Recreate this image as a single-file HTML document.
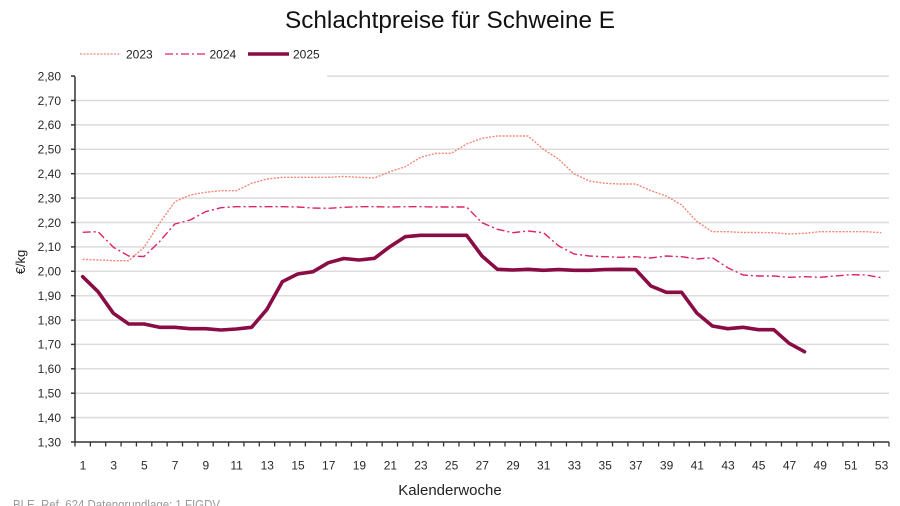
<!DOCTYPE html>
<html><head><meta charset="utf-8"><style>
html,body{margin:0;padding:0;background:#fff;}
svg{display:block;}
text{font-family:"Liberation Sans",sans-serif;}
</style></head><body>
<svg width="900" height="506" viewBox="0 0 900 506" xmlns="http://www.w3.org/2000/svg">
<rect width="900" height="506" fill="#fff"/>
<text x="450" y="28" font-size="24" text-anchor="middle" fill="#111" textLength="330" lengthAdjust="spacingAndGlyphs">Schlachtpreise für Schweine E</text>
<!-- gridlines -->
<g stroke="#dcdcdc" stroke-width="1.5">
<line x1="75" x2="889" y1="417.6" y2="417.6"/>
<line x1="75" x2="889" y1="393.2" y2="393.2"/>
<line x1="75" x2="889" y1="368.8" y2="368.8"/>
<line x1="75" x2="889" y1="344.4" y2="344.4"/>
<line x1="75" x2="889" y1="320.1" y2="320.1"/>
<line x1="75" x2="889" y1="295.7" y2="295.7"/>
<line x1="75" x2="889" y1="271.3" y2="271.3"/>
<line x1="75" x2="889" y1="246.9" y2="246.9"/>
<line x1="75" x2="889" y1="222.5" y2="222.5"/>
<line x1="75" x2="889" y1="198.1" y2="198.1"/>
<line x1="75" x2="889" y1="173.7" y2="173.7"/>
<line x1="75" x2="889" y1="149.3" y2="149.3"/>
<line x1="75" x2="889" y1="124.9" y2="124.9"/>
<line x1="75" x2="889" y1="100.5" y2="100.5"/>
<line x1="327" x2="889" y1="76.1" y2="76.1"/>
</g>
<!-- axes -->
<g stroke="#333" stroke-width="1.5">
<line x1="75" x2="75" y1="76.5" y2="442.7"/>
<line x1="74.3" x2="889" y1="442" y2="442"/>
<line x1="71" x2="75" y1="442" y2="442"/>
<line x1="71" x2="75" y1="417.6" y2="417.6"/>
<line x1="71" x2="75" y1="393.2" y2="393.2"/>
<line x1="71" x2="75" y1="368.8" y2="368.8"/>
<line x1="71" x2="75" y1="344.4" y2="344.4"/>
<line x1="71" x2="75" y1="320.1" y2="320.1"/>
<line x1="71" x2="75" y1="295.7" y2="295.7"/>
<line x1="71" x2="75" y1="271.3" y2="271.3"/>
<line x1="71" x2="75" y1="246.9" y2="246.9"/>
<line x1="71" x2="75" y1="222.5" y2="222.5"/>
<line x1="71" x2="75" y1="198.1" y2="198.1"/>
<line x1="71" x2="75" y1="173.7" y2="173.7"/>
<line x1="71" x2="75" y1="149.3" y2="149.3"/>
<line x1="71" x2="75" y1="124.9" y2="124.9"/>
<line x1="71" x2="75" y1="100.5" y2="100.5"/>
<line x1="71" x2="75" y1="76.1" y2="76.1"/>
</g>
<path stroke="#333" stroke-width="1.3" fill="none" d="M75,442v4.5 M90.36,442v4.5 M105.72,442v4.5 M121.07,442v4.5 M136.43,442v4.5 M151.79,442v4.5 M167.15,442v4.5 M182.51,442v4.5 M197.86,442v4.5 M213.22,442v4.5 M228.58,442v4.5 M243.94,442v4.5 M259.3,442v4.5 M274.65,442v4.5 M290.01,442v4.5 M305.37,442v4.5 M320.73,442v4.5 M336.09,442v4.5 M351.44,442v4.5 M366.8,442v4.5 M382.16,442v4.5 M397.52,442v4.5 M412.88,442v4.5 M428.23,442v4.5 M443.59,442v4.5 M458.95,442v4.5 M474.31,442v4.5 M489.67,442v4.5 M505.02,442v4.5 M520.38,442v4.5 M535.74,442v4.5 M551.1,442v4.5 M566.46,442v4.5 M581.81,442v4.5 M597.17,442v4.5 M612.53,442v4.5 M627.89,442v4.5 M643.25,442v4.5 M658.6,442v4.5 M673.96,442v4.5 M689.32,442v4.5 M704.68,442v4.5 M720.04,442v4.5 M735.39,442v4.5 M750.75,442v4.5 M766.11,442v4.5 M781.47,442v4.5 M796.83,442v4.5 M812.18,442v4.5 M827.54,442v4.5 M842.9,442v4.5 M858.26,442v4.5 M873.62,442v4.5 M888.97,442v4.5"/>
<!-- y labels -->
<g font-size="12" fill="#2a2a2a" text-anchor="end">
<text x="61" y="446.3">1,30</text>
<text x="61" y="421.9">1,40</text>
<text x="61" y="397.5">1,50</text>
<text x="61" y="373.1">1,60</text>
<text x="61" y="348.7">1,70</text>
<text x="61" y="324.4">1,80</text>
<text x="61" y="300">1,90</text>
<text x="61" y="275.6">2,00</text>
<text x="61" y="251.2">2,10</text>
<text x="61" y="226.8">2,20</text>
<text x="61" y="202.4">2,30</text>
<text x="61" y="178">2,40</text>
<text x="61" y="153.6">2,50</text>
<text x="61" y="129.2">2,60</text>
<text x="61" y="104.8">2,70</text>
<text x="61" y="80.4">2,80</text>
</g>
<!-- x labels -->
<g font-size="12" fill="#2a2a2a" text-anchor="middle">
<text x="83" y="469.5">1</text>
<text x="113.7" y="469.5">3</text>
<text x="144.4" y="469.5">5</text>
<text x="175.1" y="469.5">7</text>
<text x="205.8" y="469.5">9</text>
<text x="236.6" y="469.5">11</text>
<text x="267.3" y="469.5">13</text>
<text x="298" y="469.5">15</text>
<text x="328.7" y="469.5">17</text>
<text x="359.4" y="469.5">19</text>
<text x="390.4" y="469.5">21</text>
<text x="420.9" y="469.5">23</text>
<text x="451.6" y="469.5">25</text>
<text x="482.3" y="469.5">27</text>
<text x="513" y="469.5">29</text>
<text x="543.7" y="469.5">31</text>
<text x="574.4" y="469.5">33</text>
<text x="605.2" y="469.5">35</text>
<text x="635.9" y="469.5">37</text>
<text x="666.6" y="469.5">39</text>
<text x="697.3" y="469.5">41</text>
<text x="728" y="469.5">43</text>
<text x="758.7" y="469.5">45</text>
<text x="789.5" y="469.5">47</text>
<text x="820.2" y="469.5">49</text>
<text x="850.9" y="469.5">51</text>
<text x="881.6" y="469.5">53</text>
</g>
<text x="450" y="495" font-size="15" fill="#222" text-anchor="middle">Kalenderwoche</text>
<text transform="translate(25,262) rotate(-90)" font-size="13" fill="#222" text-anchor="middle">€/kg</text>
<text x="13" y="509" font-size="13" fill="#9a9a9a" textLength="207" lengthAdjust="spacingAndGlyphs">BLE, Ref. 624 Datengrundlage: 1 FIGDV</text>
<!-- legend -->
<line x1="80" x2="121" y1="54" y2="54" stroke="#f4877a" stroke-width="1.3" stroke-dasharray="2,1.4"/>
<text x="126" y="58.3" font-size="12" fill="#222">2023</text>
<line x1="165" x2="206" y1="54" y2="54" stroke="#e0245e" stroke-width="1.3" stroke-dasharray="8,3,2,3"/>
<text x="209.5" y="58.3" font-size="12" fill="#222">2024</text>
<line x1="248" x2="289" y1="54" y2="54" stroke="#8a0c45" stroke-width="3.6"/>
<text x="293" y="58.3" font-size="12" fill="#222">2025</text>
<!-- 2023 -->
<polyline fill="none" stroke="#f4877a" stroke-width="1.4" stroke-dasharray="2,1.4" stroke-linejoin="round" points="82.68,259.3 98.04,260 113.4,260.7 128.75,260.7 144.11,247.3 159.47,223.3 174.83,201.7 190.19,195 205.54,192.3 220.9,190.7 236.26,190.7 251.62,183.3 266.98,179 282.33,177.3 297.69,177.3 313.05,177.3 328.41,177.3 343.76,176.5 359.12,177.3 374.48,178 389.84,171.7 405.2,166.7 420.55,157.3 435.91,153.3 451.27,153.3 466.63,144 481.99,138.3 497.34,136 512.7,136 528.06,136 543.42,149.3 558.78,159.3 574.13,174 589.49,181 604.85,183.3 620.21,184 635.57,184 650.92,190.7 666.28,196 681.64,205 697,221.7 712.36,231.7 727.71,231.7 743.07,232.5 758.43,232.5 773.79,232.7 789.15,234 804.5,233.3 819.86,231.7 835.22,231.7 850.58,231.7 865.94,231.7 881.29,232.7"/>
<!-- 2024 -->
<polyline fill="none" stroke="#e0245e" stroke-width="1.4" stroke-dasharray="8,3,2,3" stroke-linejoin="round" points="82.68,232.3 98.04,231.7 113.4,247.3 128.75,256 144.11,256.5 159.47,241.7 174.83,224 190.19,220 205.54,211.7 220.9,207.7 236.26,206.7 251.62,206.7 266.98,206.7 282.33,206.7 297.69,207 313.05,208 328.41,208.3 343.76,207.3 359.12,206.7 374.48,206.7 389.84,207 405.2,206.7 420.55,206.7 435.91,207 451.27,207 466.63,207 481.99,222.7 497.34,229.3 512.7,232.7 528.06,231 543.42,232.7 558.78,246 574.13,254 589.49,256 604.85,256.7 620.21,257.3 635.57,256.7 650.92,258 666.28,256 681.64,256.7 697,259 712.36,257.7 727.71,267.7 743.07,275 758.43,276 773.79,276 789.15,277.3 804.5,276.7 819.86,277.3 835.22,276 850.58,274.7 865.94,275 881.29,277.7"/>
<!-- 2025 -->
<polyline fill="none" stroke="#8a0c45" stroke-width="3.6" stroke-linejoin="round" stroke-linecap="round" points="82.68,276.7 98.04,291.7 113.4,313.3 128.75,324 144.11,324 159.47,327.3 174.83,327.3 190.19,328.7 205.54,328.7 220.9,330 236.26,329 251.62,327.3 266.98,309.3 282.33,281.7 297.69,274 313.05,271.7 328.41,262.7 343.76,258.5 359.12,260 374.48,258.3 389.84,246.7 405.2,236.7 420.55,235.3 435.91,235.3 451.27,235.3 466.63,235.3 481.99,256 497.34,269.3 512.7,270 528.06,269.3 543.42,270.3 558.78,269.5 574.13,270.3 589.49,270.3 604.85,269.5 620.21,269.3 635.57,269.5 650.92,286 666.28,292.3 681.64,292.3 697,313.3 712.36,326 727.71,328.7 743.07,327.3 758.43,329.7 773.79,329.7 789.15,343.3 804.5,351.7"/>
</svg>
</body></html>
